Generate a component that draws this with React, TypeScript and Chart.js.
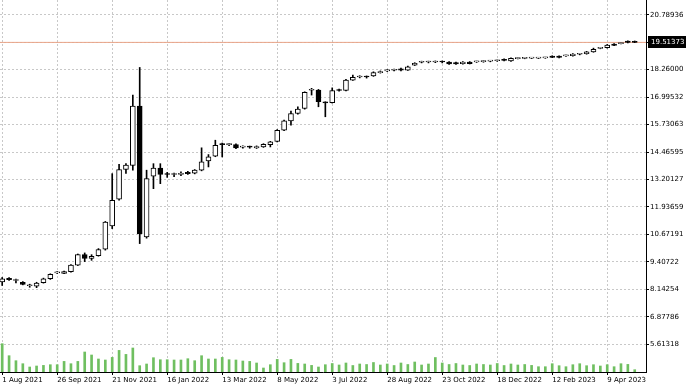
import React, { useEffect, useRef } from "react";
import { Chart, registerables } from "chart.js";
Chart.register(...registerables);

// Weekly candles, 1 Aug 2021 .. 7 May 2023 (index 0..92)
const dateLabels = [
  "1 Aug 2021", "26 Sep 2021", "21 Nov 2021", "16 Jan 2022", "13 Mar 2022", "8 May 2022",
  "3 Jul 2022", "28 Aug 2022", "23 Oct 2022", "18 Dec 2022", "12 Feb 2023", "9 Apr 2023",
];
const dateLabelIndex = [0, 8, 16, 24, 32, 40, 48, 56, 64, 72, 80, 88];

const opens = [
  8.48, 8.65, 8.55, 8.47, 8.31, 8.29, 8.45, 8.63, 8.90, 8.88,
  8.96, 9.26, 9.74, 9.57, 9.69, 9.99, 11.06, 12.29, 13.66, 13.85,
  16.58, 10.56, 13.36, 13.73, 13.44, 13.43, 13.44, 13.53, 13.49, 13.63,
  14.06, 14.27, 14.86, 14.81, 14.81, 14.69, 14.70, 14.66, 14.70, 14.81,
  14.96, 15.47, 15.90, 16.24, 16.47, 17.31, 17.32, 16.76, 16.74, 17.34,
  17.30, 17.78, 17.92, 17.93, 17.97, 18.12, 18.20, 18.23, 18.30, 18.24,
  18.47, 18.60, 18.61, 18.61, 18.62, 18.61, 18.59, 18.53, 18.61, 18.62,
  18.63, 18.65, 18.67, 18.74, 18.66, 18.77, 18.78, 18.79, 18.79, 18.80,
  18.88, 18.88, 18.89, 18.90, 18.97, 18.99, 19.08, 19.24, 19.27, 19.44,
  19.46, 19.57, 19.56,
];
const highs = [
  8.69, 8.68, 8.62, 8.50, 8.38, 8.47, 8.66, 8.86, 8.96, 8.99,
  9.28, 9.77, 9.82, 9.74, 10.02, 11.27, 13.47, 13.90, 13.93, 17.09,
  18.36, 13.63, 13.93, 13.93, 13.53, 13.50, 13.55, 13.58, 13.66, 14.66,
  14.35, 15.01, 14.88, 14.85, 14.84, 14.75, 14.74, 14.75, 14.85, 14.96,
  15.50, 15.94, 16.35, 16.55, 17.24, 17.40, 17.35, 16.78, 17.42, 17.36,
  17.81, 18.01, 17.98, 17.97, 18.16, 18.20, 18.26, 18.28, 18.33, 18.42,
  18.58, 18.65, 18.65, 18.66, 18.66, 18.63, 18.61, 18.63, 18.63, 18.65,
  18.67, 18.68, 18.70, 18.76, 18.80, 18.80, 18.80, 18.81, 18.82, 18.83,
  18.90, 18.90, 18.93, 19.00, 19.00, 19.10, 19.25, 19.27, 19.42, 19.46,
  19.49, 19.59, 19.58,
];
const lows = [
  8.32, 8.56, 8.44, 8.35, 8.24, 8.22, 8.43, 8.60, 8.87, 8.86,
  8.94, 9.24, 9.42, 9.48, 9.67, 9.95, 10.94, 12.25, 13.48, 13.63,
  10.25, 10.50, 12.78, 13.01, 13.30, 13.33, 13.38, 13.44, 13.46, 13.60,
  13.78, 14.25, 14.24, 14.76, 14.62, 14.64, 14.64, 14.63, 14.68, 14.70,
  14.93, 15.45, 15.70, 16.21, 16.44, 17.09, 16.55, 16.09, 16.72, 17.27,
  17.28, 17.76, 17.88, 17.87, 17.95, 18.10, 18.17, 18.20, 18.20, 18.22,
  18.45, 18.57, 18.57, 18.58, 18.57, 18.50, 18.50, 18.51, 18.52, 18.59,
  18.60, 18.62, 18.64, 18.66, 18.64, 18.75, 18.76, 18.77, 18.77, 18.78,
  18.81, 18.80, 18.87, 18.88, 18.94, 18.97, 19.06, 19.22, 19.25, 19.36,
  19.44, 19.49, 19.50,
];
const closes = [
  8.63, 8.59, 8.56, 8.37, 8.32, 8.43, 8.63, 8.84, 8.91, 8.96,
  9.26, 9.74, 9.57, 9.66, 9.98, 11.24, 12.24, 13.66, 13.86, 16.58,
  10.71, 13.24, 13.73, 13.44, 13.43, 13.44, 13.47, 13.47, 13.63, 14.01,
  14.24, 14.78, 14.80, 14.81, 14.66, 14.70, 14.69, 14.72, 14.82, 14.93,
  15.47, 15.90, 16.24, 16.44, 17.21, 17.32, 16.78, 16.73, 17.29, 17.30,
  17.78, 17.90, 17.93, 17.92, 18.12, 18.16, 18.21, 18.24, 18.23, 18.39,
  18.55, 18.61, 18.61, 18.62, 18.61, 18.52, 18.52, 18.61, 18.54, 18.62,
  18.64, 18.65, 18.67, 18.68, 18.78, 18.78, 18.78, 18.79, 18.80, 18.81,
  18.82, 18.82, 18.90, 18.98, 18.97, 19.08, 19.20, 19.24, 19.39, 19.38,
  19.47, 19.51, 19.51373,
];
const volumes = [
  2830, 1630, 1130, 830, 500, 600, 660, 730, 730, 1060,
  830, 1060, 2000, 1700, 1300, 1200, 1460, 2160, 1760, 2400,
  630, 800, 1430, 1230, 1230, 1200, 1200, 1330, 1130, 1630,
  1300, 1300, 1460, 1230, 1200, 1100, 1060, 900, 400, 730,
  1260, 930, 1260, 860, 800, 660, 500, 730, 850, 700,
  900, 650, 800, 750, 950, 700, 800, 650, 900, 750,
  1000, 700, 800, 1450, 900, 750, 850, 700, 650, 800,
  750, 700, 850, 650, 800, 700, 750, 660, 530, 530,
  830, 630, 530, 730, 830, 630, 730, 600, 730, 530,
  830, 760, 230,
];

const priceTicks = [
  20.78936, 19.52468, 18.26, 16.99532, 15.73063, 14.46595, 13.20127,
  11.93659, 10.67191, 9.40722, 8.14254, 6.87786, 5.61318,
];
const hiddenTick = 19.52468;
const lastPrice = 19.51373;

const X_MIN = -0.32;
const X_MAX = 93.64;
const Y_MIN = 4.3379;
const Y_MAX = 21.4661;
const VOL_MAX = 37200;

const FONT = { family: "DejaVu Sans", size: 7 };

const priceBox = {
  id: "priceBox",
  afterDraw(chart: any) {
    const y = chart.scales.y.getPixelForValue(lastPrice);
    const ctx = chart.ctx;
    const x0 = chart.chartArea.right + 2;
    ctx.save();
    ctx.fillStyle = "#000";
    ctx.fillRect(x0, Math.round(y) - 6, chart.width - x0, 12);
    ctx.fillStyle = "#fff";
    ctx.font = '7px "DejaVu Sans"';
    ctx.textBaseline = "middle";
    ctx.textAlign = "left";
    ctx.fillText(lastPrice.toFixed(5), x0 + 3, Math.round(y) + 0.5);
    ctx.restore();
  },
};

const noPad = (s: any) => {
  s.paddingTop = 0;
  s.paddingBottom = 0;
  s.paddingLeft = 0;
  s.paddingRight = 0;
};

export default function App() {
  const ref = useRef<HTMLCanvasElement>(null);
  useEffect(() => {
    document.body.style.margin = "0";
    const ctx = ref.current!.getContext("2d")!;
    const idx = closes.map((_, i) => i);
    const grid = {
      color: "#c8c8c8",
      lineWidth: 1,
      tickColor: "#000",
      tickLength: 3,
      tickBorderDash: [],
      drawTicks: true,
      offset: false,
    };
    const border = { display: true, color: "#000", width: 1, dash: [2, 2] };
    const chart = new Chart(ctx, {
      type: "bar",
      data: {
        datasets: [
          {
            type: "line",
            data: [
              { x: X_MIN, y: lastPrice },
              { x: X_MAX, y: lastPrice },
            ],
            borderColor: "#e9a488",
            borderWidth: 1,
            pointRadius: 0,
            yAxisID: "y",
            order: 3,
          } as any,
          {
            data: idx.map((i) => ({
              x: i,
              y: [Math.min(opens[i], closes[i]), Math.max(opens[i], closes[i])],
            })),
            backgroundColor: idx.map((i) => (closes[i] >= opens[i] ? "#fff" : "#000")),
            borderColor: "#000",
            borderWidth: 1,
            borderSkipped: false,
            barThickness: 5,
            minBarLength: 1,
            grouped: false,
            order: 0,
            yAxisID: "y",
          },
          {
            data: idx.map((i) => ({ x: i, y: [lows[i], highs[i]] })),
            backgroundColor: "#000",
            borderWidth: 0,
            barThickness: 1,
            grouped: false,
            order: 1,
            yAxisID: "y",
          },
          {
            data: idx.map((i) => ({ x: i, y: volumes[i] })),
            backgroundColor: "#6fbf60",
            borderWidth: 0,
            barThickness: 2,
            grouped: false,
            order: 2,
            yAxisID: "yv",
          },
        ] as any,
      },
      options: {
        responsive: false,
        animation: false,
        layout: { padding: 0 },
        plugins: { legend: { display: false }, tooltip: { enabled: false } },
        scales: {
          x: {
            type: "linear",
            min: X_MIN,
            max: X_MAX,
            offset: false,
            afterBuildTicks: (s: any) => {
              s.ticks = dateLabelIndex.map((v) => ({ value: v }));
            },
            afterFit: (s: any) => {
              s.height = 14;
              noPad(s);
            },
            ticks: {
              autoSkip: false,
              maxRotation: 0,
              minRotation: 0,
              align: "start",
              padding: 1,
              color: "#000",
              font: FONT,
              callback: (_v: any, i: number) => dateLabels[i],
            },
            grid,
            border,
          },
          y: {
            type: "linear",
            position: "right",
            min: Y_MIN,
            max: Y_MAX,
            beginAtZero: false,
            afterBuildTicks: (s: any) => {
              s.ticks = priceTicks.map((v) => ({ value: v }));
            },
            afterFit: (s: any) => {
              s.width = 40;
              noPad(s);
            },
            ticks: {
              padding: 1,
              color: "#000",
              font: FONT,
              callback: (v: any) => (v === hiddenTick ? "" : Number(v).toFixed(5)),
            },
            grid,
            border,
          },
          yv: {
            type: "linear",
            display: false,
            min: 0,
            max: VOL_MAX,
          },
        } as any,
      },
      plugins: [priceBox],
    });
    return () => chart.destroy();
  }, []);
  return (
    <div style={{ width: 686, height: 386, background: "#fff" }}>
      <canvas ref={ref} width={686} height={386} style={{ display: "block" }} />
    </div>
  );
}
